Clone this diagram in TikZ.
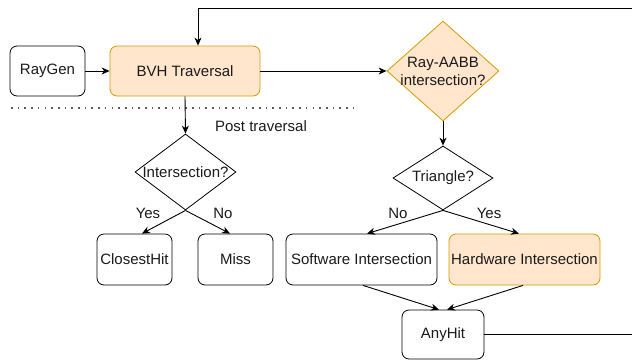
\documentclass[tikz,border=0pt]{standalone}
\usepackage{fontspec}
\setmainfont{Liberation Sans}
\usetikzlibrary{shapes.geometric,arrows.meta,calc}
\definecolor{accfill}{HTML}{FFE6CC}
\definecolor{accline}{HTML}{D79B00}
\definecolor{ink}{HTML}{1A1A1A}
\tikzset{
  every node/.style={font=\fontsize{15}{18}\selectfont, text=ink},
  box/.style={draw=black, rounded corners=7pt, line width=0.8pt, inner sep=0pt, fill=white},
  accent/.style={fill=accfill, draw=accline},
  decision/.style={draw=black, shape=diamond, line width=0.8pt, inner sep=0pt, fill=white},
  caption/.style={label={[inner sep=0pt, align=center]center:#1}},
  flow/.style={line width=0.9pt, draw=black, -{Stealth[length=8pt,width=7pt,inset=2.5pt]}},
  lbl/.style={inner sep=0pt}
}
\begin{document}
\begin{tikzpicture}[x=1pt,y=-1pt]
\useasboundingbox (0,0) rectangle (632,360);
\clip (0,0) rectangle (632,360);

% separator between traversal and post traversal stages
\draw[gray!70!black, line width=1.6pt, dash pattern=on 1.6pt off 5.1pt] (11,108) -- (356,108);

% boxes
\node[box, minimum width=75pt, minimum height=50pt] (raygen) at (47.5,71) {RayGen};
\node[box, accent, minimum width=150pt, minimum height=50pt] (bvh) at (185,71) {BVH Traversal};
\node[decision, accent, minimum width=112pt, minimum height=100pt,
      caption={Ray-AABB\\intersection?}] (aabb) at (443,71) {};
\node[decision, minimum width=101pt, minimum height=76pt,
      caption={Intersection?}] (inter) at (185.5,172) {};
\node[decision, minimum width=100pt, minimum height=64pt,
      caption={Triangle?}] (tri) at (443,178) {};
\node[box, minimum width=75pt, minimum height=51pt] (closest) at (134.5,259.5) {ClosestHit};
\node[box, minimum width=75pt, minimum height=51pt] (miss) at (235.5,259.5) {Miss};
\node[box, minimum width=151pt, minimum height=51pt] (soft) at (361.5,259.5) {Software Intersection};
\node[box, accent, minimum width=151pt, minimum height=51pt] (hard) at (524.5,259.5) {Hardware Intersection};
\node[box, minimum width=82pt, minimum height=49pt] (anyhit) at (443,334.5) {AnyHit};

\node[lbl] (post) at (261,126) {Post traversal};

% connectors
\draw[flow] (raygen.east) -- (bvh.west);
\draw[flow] (bvh.east) -- (aabb.west);
\draw[flow] (bvh.south) -- (inter.north);
\draw[flow] (aabb.south) -- (tri.north);

\draw[flow] (inter.south) -- ($(closest.north)+(7.5,0)$);
\draw[flow] (inter.south) -- ($(miss.north)+(-5.5,0)$);
\node[lbl] (yesA) at (148,213) {Yes};
\node[lbl] (noA) at (223,213) {No};

\draw[flow] (tri.south) -- ($(soft.north)+(5.5,0)$);
\draw[flow] (tri.south) -- ($(hard.north)+(-5.5,0)$);
\node[lbl] (noB) at (398,213) {No};
\node[lbl] (yesB) at (489,213) {Yes};

\draw[flow] ($(soft.south)+(1.5,0)$) -- ($(anyhit.north)+(-4,0)$);
\draw[flow] ($(hard.south)+(-1.5,0)$) -- ($(anyhit.north)+(4,0)$);

% loop back from AnyHit to the traversal
\coordinate (loopR) at (640,334.5);
\coordinate (loopT) at (640,8);
\coordinate (loopL) at (198,8);
\draw[flow] (anyhit.east) -- (loopR) -- (loopT) -- (loopL) -- (bvh.north -| loopL);
\end{tikzpicture}
\end{document}
